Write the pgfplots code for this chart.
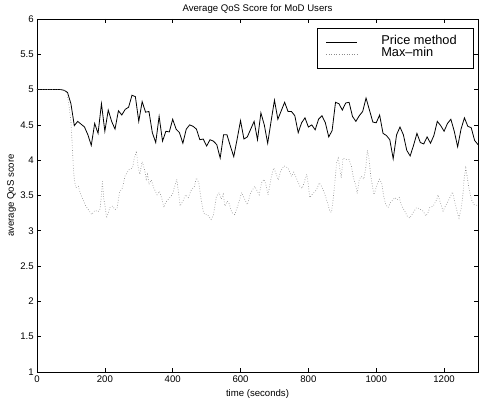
\documentclass[border=0pt]{standalone}
\usepackage{fontspec}
\setmainfont{Liberation Sans}
\usepackage{pgfplots}
\pgfplotsset{compat=1.18}
\begin{document}
\fontsize{9.6bp}{11.5bp}\selectfont
\begin{tikzpicture}
\begin{axis}[
  name=ax,
  scale only axis,
  width=441bp, height=353bp,
  xmin=0, xmax=1300, ymin=1, ymax=6,
  xtick={0,200,...,1200},
  ytick={1,1.5,...,6},
  tick align=inside,
  xtick pos=both, ytick pos=both,
  major tick length=4bp,
  axis line style={line width=0.7pt},
  every tick/.style={black, line width=0.6pt},
  /pgf/number format/assume math mode=true,
  /pgf/number format/1000 sep={},
  title={Average QoS Score for MoD Users},
  every axis title/.style={at={(axis description cs:0.5,1)}, anchor=center, yshift=10bp},
  xlabel={time (seconds)},
  every axis x label/.style={at={(axis description cs:0.5,0)}, anchor=center, yshift=-22bp},
  ylabel={average QoS score},
  every axis y label/.style={at={(axis description cs:0,0.5)}, xshift=-25.5bp, rotate=90, anchor=center},
  legend cell align=left,
  legend image code/.code={\draw[#1] (0bp,0bp) -- (31bp,0bp); \path[draw=none,fill=none] (31bp,0bp) -- (55bp,0bp);},
  legend style={at={(axis description cs:1,1)}, anchor=north east, xshift=-4bp, yshift=-9bp,
    draw=black, line width=0.6pt, inner xsep=9bp, inner ysep=8bp,
    font=\fontsize{12.8bp}{13bp}\selectfont,
    nodes={inner sep=0pt, text height=8.5bp, text depth=3.5bp}},
]
\addplot[black, line width=0.8pt] coordinates {
(0,5.0)(10,5.0)(20,5.0)(30,5.0)(40,5.0)(50,5.0)(60,5.0)(70,5.0)(80,4.99)(90,4.96)
(100,4.80)(110,4.49)(120,4.55)(130,4.51)(140,4.47)(150,4.36)(160,4.21)(170,4.52)(180,4.38)(190,4.80)
(200,4.41)(210,4.71)(220,4.55)(230,4.44)(240,4.70)(250,4.64)(260,4.72)(270,4.75)(280,4.92)(290,4.90)
(300,4.55)(310,4.83)(320,4.68)(330,4.69)(340,4.39)(350,4.25)(360,4.62)(370,4.27)(380,4.41)(390,4.40)
(400,4.58)(410,4.44)(420,4.39)(430,4.24)(440,4.44)(450,4.50)(460,4.48)(470,4.44)(480,4.29)(490,4.30)
(500,4.20)(510,4.29)(520,4.27)(530,4.22)(540,4.03)(550,4.36)(560,4.36)(570,4.20)(580,4.05)(590,4.30)
(600,4.56)(610,4.30)(620,4.33)(630,4.44)(640,4.55)(650,4.29)(660,4.67)(670,4.50)(680,4.24)(690,4.55)
(700,4.85)(710,4.58)(720,4.70)(730,4.82)(740,4.69)(750,4.69)(760,4.63)(770,4.39)(780,4.53)(790,4.60)
(800,4.47)(810,4.50)(820,4.43)(830,4.58)(840,4.63)(850,4.53)(860,4.33)(870,4.42)(880,4.82)(890,4.80)
(900,4.71)(910,4.81)(920,4.82)(930,4.62)(940,4.55)(950,4.63)(960,4.69)(970,4.88)(980,4.71)(990,4.54)
(1000,4.53)(1010,4.64)(1020,4.38)(1030,4.35)(1040,4.29)(1050,4.02)(1060,4.36)(1070,4.47)(1080,4.36)(1090,4.14)
(1100,4.06)(1110,4.21)(1120,4.38)(1130,4.25)(1140,4.23)(1150,4.33)(1160,4.24)(1170,4.35)(1180,4.55)(1190,4.49)
(1200,4.41)(1210,4.52)(1220,4.58)(1230,4.41)(1240,4.19)(1250,4.44)(1260,4.60)(1270,4.48)(1280,4.46)(1290,4.28)
(1300,4.22)
};
\addlegendentry{Price method\hspace*{8bp}}
\addplot[black!45, line width=0.65pt, dash pattern=on 0.65pt off 1.9pt] coordinates {
(0,5.0)(20,5.0)(40,5.0)(60,5.0)(80,5.0)(88,4.95)(95,4.75)(100,4.55)(104,4.20)(107,3.91)
(110,3.73)(114,3.61)(122,3.63)(127,3.54)(136,3.44)(144,3.35)(154,3.28)(161,3.23)(171,3.29)(180,3.27)
(186,3.31)(190,3.51)(193,3.70)(197,3.45)(200,3.37)(205,3.18)(215,3.33)(223,3.35)(230,3.30)(236,3.32)
(243,3.54)(252,3.61)(259,3.77)(265,3.82)(272,3.87)(282,3.89)(286,4.01)(293,4.13)(298,3.91)(303,3.80)
(310,3.98)(317,3.87)(322,3.73)(326,3.80)(330,3.66)(337,3.72)(344,3.61)(354,3.51)(361,3.56)(369,3.44)
(374,3.33)(379,3.40)(391,3.47)(399,3.51)(406,3.63)(412,3.73)(418,3.51)(422,3.35)(430,3.42)(438,3.51)
(446,3.47)(455,3.58)(464,3.63)(470,3.75)(477,3.68)(484,3.44)(490,3.28)(494,3.23)(502,3.23)(513,3.16)
(520,3.22)(529,3.49)(537,3.54)(543,3.45)(549,3.52)(554,3.35)(561,3.42)(567,3.38)(574,3.26)(583,3.23)
(593,3.37)(603,3.54)(613,3.44)(620,3.37)(630,3.54)(642,3.63)(655,3.51)(662,3.68)(669,3.73)(675,3.65)
(681,3.51)(691,3.77)(698,3.89)(704,3.82)(711,3.72)(718,3.84)(728,3.92)(740,3.89)(750,3.77)(757,3.83)
(766,3.73)(775,3.63)(782,3.60)(795,3.80)(800,3.65)(804,3.47)(812,3.52)(824,3.58)(832,3.68)(840,3.62)
(849,3.51)(858,3.37)(863,3.28)(868,3.26)(873,3.44)(878,3.68)(883,3.96)(888,4.03)(893,3.87)(897,3.75)
(902,4.03)(912,4.01)(920,4.01)(927,3.91)(932,3.77)(940,3.63)(944,3.53)(950,3.73)(956,3.77)(963,3.73)
(969,3.89)(974,4.14)(979,4.01)(984,3.77)(989,3.63)(993,3.51)(1001,3.63)(1009,3.73)(1016,3.68)(1022,3.49)
(1028,3.37)(1035,3.33)(1042,3.40)(1055,3.47)(1062,3.44)(1068,3.47)(1075,3.35)(1084,3.28)(1091,3.21)(1099,3.18)
(1109,3.26)(1119,3.33)(1128,3.31)(1138,3.28)(1146,3.21)(1152,3.25)(1158,3.33)(1168,3.35)(1178,3.44)(1182,3.51)
(1189,3.40)(1197,3.28)(1205,3.36)(1212,3.42)(1219,3.49)(1225,3.55)(1232,3.40)(1238,3.28)(1244,3.18)(1251,3.33)
(1256,3.54)(1259,3.73)(1264,3.89)(1268,3.77)(1274,3.58)(1281,3.44)(1288,3.37)(1296,3.36)(1300,3.38)
};
\addlegendentry{Max--min}
\end{axis}
\pgfresetboundingbox
\path ([shift={(-37bp,-30bp)}]ax.south west) rectangle ([shift={(3bp,19bp)}]ax.north east);
\end{tikzpicture}
\end{document}
